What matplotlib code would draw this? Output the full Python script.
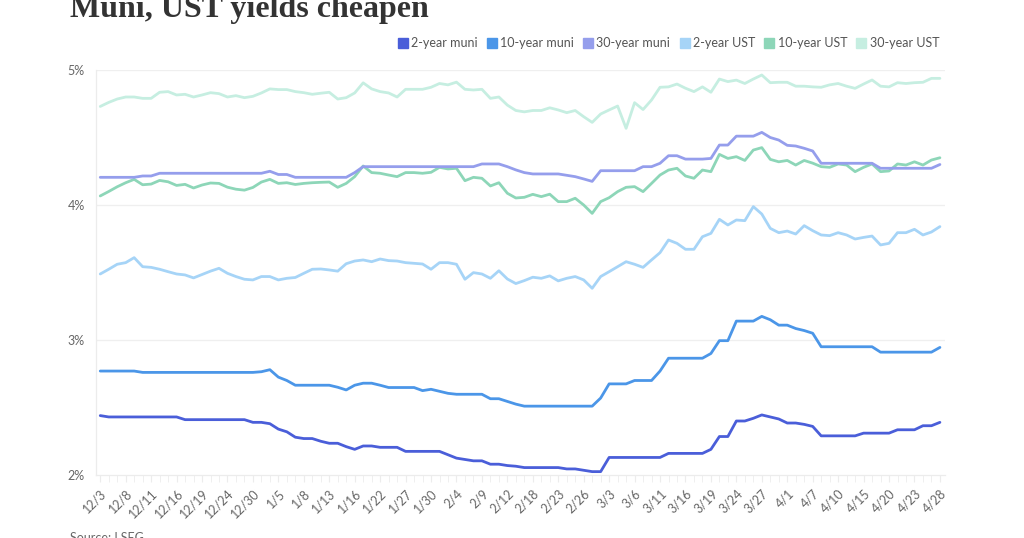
"""Muni, UST yields cheapen: six yield series, Dec 2025 to Apr 2026."""

import matplotlib as mpl
mpl.use("Agg")
import matplotlib.pyplot as plt
from matplotlib.lines import Line2D
import pandas as pd

mpl.rcParams.update({
    "font.family": ["Lato", "DejaVu Sans"],
    "figure.facecolor": "white",
    "axes.facecolor": "white",
})

# Trading days (US bond market holidays removed)
holidays = ["2025-12-25", "2026-01-01", "2026-01-19", "2026-02-16", "2026-04-03"]
dates = pd.bdate_range("2025-12-03", "2026-04-28", freq="C", holidays=holidays)
date_labels = [f"{d.month}/{d.day}" for d in dates]

series_names = ["2-year muni", "10-year muni", "30-year muni",
                "2-year UST", "10-year UST", "30-year UST"]

muni_2y = [
    2.44, 2.43, 2.43, 2.43, 2.43, 2.43, 2.43, 2.43, 2.43, 2.43,
    2.41, 2.41, 2.41, 2.41, 2.41, 2.41, 2.41, 2.41, 2.39, 2.39,
    2.38, 2.34, 2.32, 2.28, 2.27, 2.27, 2.25, 2.235, 2.235, 2.21,
    2.19, 2.215, 2.215, 2.205, 2.205, 2.205, 2.175, 2.175, 2.175, 2.175,
    2.175, 2.15, 2.125, 2.115, 2.105, 2.105, 2.08, 2.08, 2.07, 2.065,
    2.055, 2.055, 2.055, 2.055, 2.055, 2.045, 2.045, 2.035, 2.025, 2.025,
    2.13, 2.13, 2.13, 2.13, 2.13, 2.13, 2.13, 2.16, 2.16, 2.16,
    2.16, 2.16, 2.19, 2.285, 2.285, 2.40, 2.40, 2.42, 2.445, 2.43,
    2.415, 2.385, 2.385, 2.375, 2.36, 2.29, 2.29, 2.29, 2.29, 2.29,
    2.31, 2.31, 2.31, 2.31, 2.335, 2.335, 2.335, 2.365, 2.365, 2.39,
]

muni_10y = [
    2.77, 2.77, 2.77, 2.77, 2.77, 2.76, 2.76, 2.76, 2.76, 2.76,
    2.76, 2.76, 2.76, 2.76, 2.76, 2.76, 2.76, 2.76, 2.76, 2.765,
    2.78, 2.725, 2.70, 2.665, 2.665, 2.665, 2.665, 2.665, 2.65, 2.63,
    2.665, 2.68, 2.68, 2.665, 2.648, 2.648, 2.648, 2.648, 2.625, 2.635,
    2.62, 2.605, 2.598, 2.598, 2.598, 2.598, 2.565, 2.565, 2.545, 2.525,
    2.51, 2.51, 2.51, 2.51, 2.51, 2.51, 2.51, 2.51, 2.51, 2.57,
    2.675, 2.675, 2.675, 2.70, 2.70, 2.70, 2.77, 2.865, 2.865, 2.865,
    2.865, 2.865, 2.90, 2.995, 2.995, 3.14, 3.14, 3.14, 3.175, 3.15,
    3.11, 3.11, 3.085, 3.07, 3.05, 2.95, 2.95, 2.95, 2.95, 2.95,
    2.95, 2.95, 2.91, 2.91, 2.91, 2.91, 2.91, 2.91, 2.91, 2.945,
]

muni_30y = [
    4.205, 4.205, 4.205, 4.205, 4.205, 4.215, 4.215, 4.235, 4.235, 4.235,
    4.235, 4.235, 4.235, 4.235, 4.235, 4.235, 4.235, 4.235, 4.235, 4.235,
    4.25, 4.226, 4.226, 4.205, 4.205, 4.205, 4.205, 4.205, 4.205, 4.205,
    4.24, 4.284, 4.284, 4.284, 4.284, 4.284, 4.284, 4.284, 4.284, 4.284,
    4.284, 4.284, 4.284, 4.284, 4.284, 4.304, 4.304, 4.304, 4.284, 4.26,
    4.24, 4.23, 4.23, 4.23, 4.23, 4.22, 4.21, 4.193, 4.175, 4.254,
    4.254, 4.254, 4.254, 4.254, 4.284, 4.284, 4.309, 4.365, 4.365, 4.34,
    4.34, 4.34, 4.345, 4.444, 4.444, 4.51, 4.51, 4.51, 4.538, 4.50,
    4.481, 4.442, 4.437, 4.42, 4.40, 4.309, 4.309, 4.309, 4.309, 4.309,
    4.309, 4.309, 4.272, 4.272, 4.272, 4.272, 4.272, 4.272, 4.272, 4.30,
]

ust_2y = [
    3.489, 3.524, 3.561, 3.573, 3.61, 3.543, 3.538, 3.524, 3.506, 3.489,
    3.482, 3.46, 3.485, 3.51, 3.531, 3.494, 3.47, 3.45, 3.445, 3.47,
    3.47, 3.445, 3.457, 3.463, 3.494, 3.524, 3.526, 3.519, 3.51, 3.565,
    3.585, 3.593, 3.58, 3.60, 3.588, 3.585, 3.573, 3.568, 3.563, 3.524,
    3.573, 3.573, 3.561, 3.45, 3.499, 3.489, 3.457, 3.513, 3.452, 3.418,
    3.44, 3.465, 3.457, 3.475, 3.438, 3.457, 3.47, 3.445, 3.383, 3.47,
    3.506, 3.543, 3.58, 3.561, 3.538, 3.593, 3.647, 3.741, 3.716, 3.672,
    3.672, 3.765, 3.79, 3.894, 3.852, 3.889, 3.884, 3.988, 3.933, 3.827,
    3.795, 3.807, 3.785, 3.847, 3.81, 3.778, 3.773, 3.795, 3.778, 3.748,
    3.76, 3.77, 3.704, 3.716, 3.795, 3.795, 3.82, 3.778, 3.80, 3.84,
]

ust_10y = [
    4.067, 4.10, 4.135, 4.165, 4.19, 4.15, 4.155, 4.182, 4.172, 4.145,
    4.153, 4.126, 4.148, 4.163, 4.16, 4.132, 4.117, 4.11, 4.13, 4.17,
    4.19, 4.16, 4.165, 4.152, 4.16, 4.165, 4.168, 4.17, 4.131, 4.16,
    4.21, 4.289, 4.24, 4.235, 4.222, 4.21, 4.24, 4.24, 4.235, 4.242,
    4.279, 4.267, 4.272, 4.18, 4.205, 4.198, 4.141, 4.165, 4.087, 4.052,
    4.057, 4.079, 4.062, 4.08, 4.025, 4.025, 4.05, 4.0, 3.938, 4.025,
    4.054, 4.099, 4.131, 4.136, 4.099, 4.16, 4.222, 4.259, 4.272, 4.215,
    4.198, 4.259, 4.247, 4.375, 4.345, 4.358, 4.33, 4.407, 4.425, 4.338,
    4.32, 4.33, 4.296, 4.33, 4.31, 4.284, 4.279, 4.304, 4.296, 4.247,
    4.279, 4.304, 4.247, 4.252, 4.304, 4.296, 4.32, 4.296, 4.333, 4.35,
]

ust_30y = [
    4.73, 4.76, 4.785, 4.80, 4.80, 4.79, 4.79, 4.835, 4.84, 4.815,
    4.82, 4.80, 4.815, 4.832, 4.825, 4.80, 4.81, 4.795, 4.805, 4.83,
    4.86, 4.855, 4.855, 4.84, 4.832, 4.82, 4.828, 4.835, 4.785, 4.795,
    4.83, 4.905, 4.86, 4.84, 4.83, 4.80, 4.857, 4.857, 4.857, 4.872,
    4.90, 4.89, 4.91, 4.857, 4.852, 4.857, 4.79, 4.80, 4.74, 4.70,
    4.69, 4.70, 4.70, 4.72, 4.704, 4.684, 4.70, 4.654, 4.612, 4.674,
    4.704, 4.733, 4.568, 4.758, 4.707, 4.778, 4.872, 4.875, 4.896, 4.865,
    4.84, 4.875, 4.835, 4.933, 4.914, 4.925, 4.90, 4.933, 4.963, 4.906,
    4.909, 4.909, 4.88, 4.88, 4.875, 4.872, 4.89, 4.90, 4.88, 4.864,
    4.896, 4.926, 4.88, 4.875, 4.906, 4.90, 4.906, 4.909, 4.938, 4.938,
]

yields = [muni_2y, muni_10y, muni_30y, ust_2y, ust_10y, ust_30y]
colors = ["#4a5ed9", "#4b96e8", "#959eec", "#a6d4f7", "#8dd6b8", "#c6eee1"]
zorders = [8, 7, 6, 3, 4, 2]

fig = plt.figure(figsize=(10.24, 5.38), dpi=100)
ax = fig.add_axes([96 / 1024, 1 - 475 / 538, (945 - 96) / 1024, (475 - 70) / 538])

x = list(range(len(dates)))
for vals, c, z in zip(yields, colors, zorders):
    ax.plot(x, vals, color=c, linewidth=2.0, zorder=z,
            solid_joinstyle="round", solid_capstyle="round")

ax.set_xlim(-0.5, 99.6)
ax.set_ylim(2, 5)

# Grid and axes
for yv in [3, 4, 5]:
    ax.axhline(yv, color="#efefef", linewidth=0.9, zorder=0)
for side in ["top", "right"]:
    ax.spines[side].set_visible(False)
ax.spines["left"].set_color("#ececec")
ax.spines["bottom"].set_color("#ececec")
ax.spines["left"].set_linewidth(0.9)
ax.spines["bottom"].set_linewidth(0.9)

ax.set_yticks([2, 3, 4, 5])
ax.set_yticklabels(["2%", "3%", "4%", "5%"])
ax.tick_params(axis="y", length=0, pad=8, labelsize=9, labelcolor="#666666")

ax.set_xticks(x[::3])
ax.set_xticklabels(date_labels[::3], rotation=45, ha="right",
                   rotation_mode="anchor", fontsize=9, color="#666666")
ax.set_xticks(x, minor=True)
ax.tick_params(axis="x", which="major", length=5, color="#ececec", pad=4)
ax.tick_params(axis="x", which="minor", length=5, color="#ececec")

# Title
fig.text(70 / 1024, 1 - 17 / 538, "Muni, UST yields cheapen",
         family=["Liberation Serif", "DejaVu Serif"], fontweight="bold",
         fontsize=23, color="#333333", ha="left", va="baseline")

# Legend
handles = [Line2D([], [], linestyle="none", marker="s", markersize=7.5,
                  markerfacecolor=c, markeredgecolor=c) for c in colors]
leg = fig.legend(handles, series_names, loc="center right",
                 bbox_to_anchor=(944 / 1024, 1 - 43 / 538), ncol=6,
                 frameon=False, fontsize=9, handletextpad=0.3,
                 columnspacing=0.8, handlelength=0.7, borderaxespad=0)
for t in leg.get_texts():
    t.set_color("#555555")

# Source (cut off at the bottom edge)
fig.text(70 / 1024, 0 / 538, "Source: LSEG", fontsize=9, color="#666666",
         ha="left", va="center")

fig.savefig("out.png", dpi=100)
plt.close(fig)
